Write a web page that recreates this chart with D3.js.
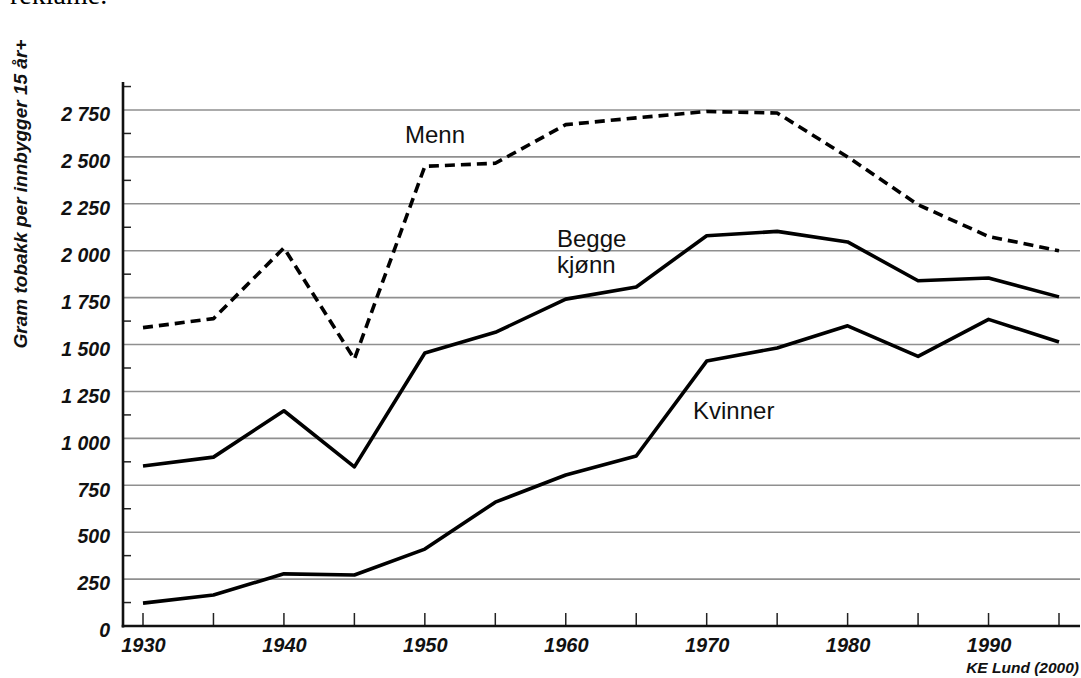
<!DOCTYPE html>
<html>
<head>
<meta charset="utf-8">
<script src="https://cdn.jsdelivr.net/npm/d3@7"></script>
<style>
  html, body { margin: 0; padding: 0; background: #fff; }
  svg { display: block; }
</style>
</head>
<body>
<svg id="chart" width="1081" height="678"></svg>
<script>
// ---- Data ----
const years = [1930, 1935, 1940, 1945, 1950, 1955, 1960, 1965, 1970, 1975, 1980, 1985, 1990, 1995];
const menn = [1590, 1638, 2015, 1422, 2450, 2466, 2672, 2708, 2742, 2734, 2500, 2245, 2076, 2000];
const begge = [853, 900, 1147, 848, 1455, 1565, 1742, 1807, 2080, 2103, 2047, 1840, 1855, 1754];
const kvinner = [122, 165, 278, 272, 410, 660, 805, 906, 1412, 1482, 1600, 1437, 1634, 1514];
const yTicks = [0, 250, 500, 750, 1000, 1250, 1500, 1750, 2000, 2250, 2500, 2750];
const yMinorTicks = [125, 375, 625, 875, 1125, 1375, 1625, 1875, 2125, 2375, 2625, 2875];
const xLabelYears = [1930, 1940, 1950, 1960, 1970, 1980, 1990];
const seriesLabels = { menn: "Menn", begge: ["Begge", "kjønn"], kvinner: "Kvinner" };
const yTitle = "Gram tobakk per innbygger 15 år+";
const credit = "KE Lund (2000)";
const topText = "reklame.";

// ---- Layout ----
const svg = d3.select("#chart");
const left = 123, right = 1080, bottom = 626;
const x = d3.scaleLinear().domain([1930, 1995]).range([143, 1059]);
const y = d3.scaleLinear().domain([0, 2750]).range([bottom, 110]);
const axisTop = y(2960);

// top cut-off text
svg.append("text").attr("x", 10).attr("y", 4)
  .attr("font-family", "Liberation Serif, Times New Roman, serif")
  .attr("font-size", 28).attr("fill", "#000").text(topText);

// gridlines
svg.append("g").selectAll("line").data(yTicks.filter(d => d > 0)).join("line")
  .attr("x1", left).attr("x2", right)
  .attr("y1", d => y(d)).attr("y2", d => y(d))
  .attr("stroke", "#8f8f8f").attr("stroke-width", 1.6);

// y axis with labels (via d3 axis)
const yAxis = d3.axisLeft(y).tickValues(yTicks).tickSize(0).tickPadding(13)
  .tickFormat(d => d3.format(",")(d).replace(/,/g, "\u2009"));
const gy = svg.append("g").attr("transform", `translate(${left},0)`).call(yAxis);
gy.select(".domain").remove();
gy.selectAll("text")
  .attr("font-family", "Liberation Sans, Arial, sans-serif")
  .attr("font-weight", "bold").attr("font-style", "italic")
  .attr("font-size", 19.5).attr("fill", "#111")
  .attr("dy", "0.55em");
// use regular space between thousands
gy.selectAll("text").text(d => d >= 1000 ? Math.floor(d / 1000) + " " + String(d % 1000).padStart(3, "0") : String(d));

// minor y ticks
svg.append("g").selectAll("line").data(yMinorTicks).join("line")
  .attr("x1", left).attr("x2", left + 8)
  .attr("y1", d => y(d)).attr("y2", d => y(d))
  .attr("stroke", "#222").attr("stroke-width", 1.5);

// y axis line
svg.append("line").attr("x1", left).attr("x2", left)
  .attr("y1", 82).attr("y2", bottom + 1.5)
  .attr("stroke", "#111").attr("stroke-width", 2.6);

// x axis ticks (upwards)
svg.append("g").selectAll("line").data(years).join("line")
  .attr("x1", d => x(d)).attr("x2", d => x(d))
  .attr("y1", bottom).attr("y2", bottom - 13)
  .attr("stroke", "#222").attr("stroke-width", 1.5);

// x axis line
svg.append("line").attr("x1", left - 1.3).attr("x2", right)
  .attr("y1", bottom).attr("y2", bottom)
  .attr("stroke", "#111").attr("stroke-width", 2.6);

// x labels via axis
const xAxis = d3.axisBottom(x).tickValues(xLabelYears).tickSize(0).tickPadding(12).tickFormat(d3.format("d"));
const gx = svg.append("g").attr("transform", `translate(0,${bottom})`).call(xAxis);
gx.select(".domain").remove();
gx.selectAll("text")
  .attr("font-family", "Liberation Sans, Arial, sans-serif")
  .attr("font-weight", "bold").attr("font-style", "italic")
  .attr("font-size", 20).attr("fill", "#111");

// lines
const line = d3.line().x((d, i) => x(years[i])).y(d => y(d));
svg.append("path").datum(menn).attr("d", line)
  .attr("fill", "none").attr("stroke", "#000").attr("stroke-width", 3.6)
  .attr("stroke-dasharray", "10,6").attr("stroke-linejoin", "round");
svg.append("path").datum(begge).attr("d", line)
  .attr("fill", "none").attr("stroke", "#000").attr("stroke-width", 3.6)
  .attr("stroke-linejoin", "round");
svg.append("path").datum(kvinner).attr("d", line)
  .attr("fill", "none").attr("stroke", "#000").attr("stroke-width", 3.6)
  .attr("stroke-linejoin", "round");

// series labels
const lab = svg.append("g")
  .attr("font-family", "Liberation Sans, Arial, sans-serif")
  .attr("font-size", 24).attr("fill", "#111");
lab.append("text").attr("x", 405).attr("y", 143).text(seriesLabels.menn);
lab.append("text").attr("x", 557).attr("y", 247).text(seriesLabels.begge[0]);
lab.append("text").attr("x", 557).attr("y", 273).text(seriesLabels.begge[1]);
lab.append("text").attr("x", 693).attr("y", 419).text(seriesLabels.kvinner);

// y title
svg.append("text")
  .attr("transform", "translate(27,194) rotate(-90)")
  .attr("text-anchor", "middle")
  .attr("font-family", "Liberation Sans, Arial, sans-serif")
  .attr("font-weight", "bold").attr("font-style", "italic")
  .attr("font-size", 19).attr("fill", "#111")
  .text(yTitle);

// credit
svg.append("text").attr("x", 1079).attr("y", 673).attr("text-anchor", "end")
  .attr("font-family", "Liberation Sans, Arial, sans-serif")
  .attr("font-weight", "bold").attr("font-style", "italic")
  .attr("font-size", 15.5).attr("fill", "#111")
  .text(credit);
</script>
</body>
</html>
